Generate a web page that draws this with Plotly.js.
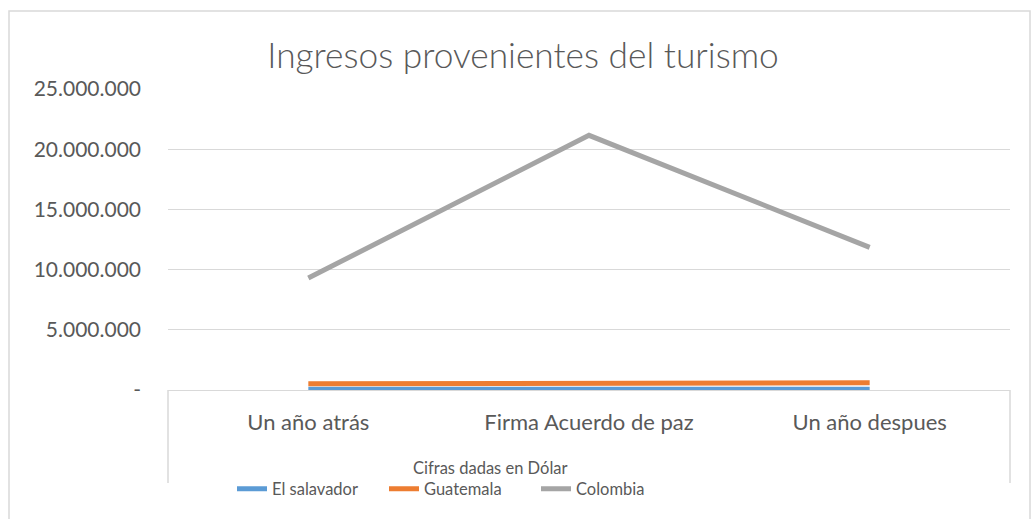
<!DOCTYPE html>
<html>
<head>
<meta charset="utf-8">
<script src="https://cdn.plot.ly/plotly-3.0.1.min.js"></script>
<style>html,body{margin:0;padding:0;background:#fff;}#chart{width:1031px;height:519px;}</style>
</head>
<body>
<div id="chart"></div>
<script>
const categories = ["Un año atrás", "Firma Acuerdo de paz", "Un año despues"];
const seriesNames = ["El salavador", "Guatemala", "Colombia"];
const elSalvador = [60000, 60000, 60000];
const guatemala = [520000, 540000, 600000];
const colombia = [9300000, 21150000, 11850000];
const yTickVals = [0, 5000000, 10000000, 15000000, 20000000, 25000000];
const yTickText = ["-", "5.000.000", "10.000.000", "15.000.000", "20.000.000", "25.000.000"];
const colors = ["#5B9BD5", "#ED7D31", "#A5A5A5"];
const values = [elSalvador, guatemala, colombia];

const FONT = "Lato, 'Open Sans', sans-serif";
const GREY = "#595959";
const LINEC = "#D9D9D9";

const traces = values.map((v, i) => ({
  type: "scatter",
  mode: "lines",
  x: categories,
  y: v,
  name: seriesNames[i],
  line: {color: colors[i], width: 5},
  hoverinfo: "skip"
}));

const W = 1031, H = 519;
const L = 168, R = 21, T = 89, B = 129;
const pw = W - L - R, ph = H - T - B;
function px2x(px) { return (px - L) / pw; }
function py2y(py) { return (H - B - py) / ph; }

const layout = {
  width: W, height: H,
  margin: {l: L, r: R, t: T, b: B, pad: 0},
  paper_bgcolor: "#fff",
  plot_bgcolor: "#fff",
  font: {family: FONT, color: GREY},
  title: {
    text: "Ingresos provenientes del turismo",
    font: {family: FONT, size: 35.3, color: GREY, weight: 300},
    x: 523 / W, xanchor: "center",
    y: 1 - 56 / H, yanchor: "middle", xref: "container", yref: "container"
  },
  xaxis: {
    type: "category",
    range: [-0.5, 2.5],
    showgrid: false,
    zeroline: false,
    showline: true,
    linecolor: LINEC,
    linewidth: 1,
    ticks: "",
    tickfont: {family: FONT, size: 22, color: GREY},
    ticklabelstandoff: 13,
    fixedrange: true
  },
  yaxis: {
    range: [0, 25000000],
    tickvals: yTickVals,
    ticktext: yTickText,
    showgrid: true,
    gridcolor: LINEC,
    gridwidth: 1,
    zeroline: false,
    showline: false,
    ticks: "",
    tickfont: {family: FONT, size: 21, color: GREY},
    ticklabelstandoff: 26,
    fixedrange: true
  },
  showlegend: true,
  legend: {
    orientation: "h",
    x: px2x(232), xanchor: "left",
    y: py2y(489), yanchor: "middle",
    font: {family: FONT, size: 16.5, color: GREY},
    bgcolor: "rgba(0,0,0,0)",
    itemwidth: 30,
    entrywidth: 107,
    tracegroupgap: 0
  },
  annotations: [{
    text: "Cifras dadas en Dólar",
    xref: "paper", yref: "paper",
    x: px2x(490), y: py2y(468),
    xanchor: "center", yanchor: "middle",
    showarrow: false,
    font: {family: FONT, size: 16.5, color: GREY}
  }],
  shapes: [
    {type: "line", xref: "paper", yref: "paper", x0: 0, x1: 0, y0: 0, y1: py2y(483), line: {color: LINEC, width: 1.5}},
    {type: "line", xref: "paper", yref: "paper", x0: 1, x1: 1, y0: 0, y1: py2y(483), line: {color: LINEC, width: 1.5}},
    {type: "rect", xref: "paper", yref: "paper", x0: px2x(9), x1: px2x(1030), y0: py2y(11), y1: py2y(530), line: {color: LINEC, width: 1.5}, fillcolor: "rgba(0,0,0,0)", layer: "below"}
  ]
};

Plotly.newPlot("chart", traces, layout, {displayModeBar: false, staticPlot: true});
</script>
</body>
</html>
